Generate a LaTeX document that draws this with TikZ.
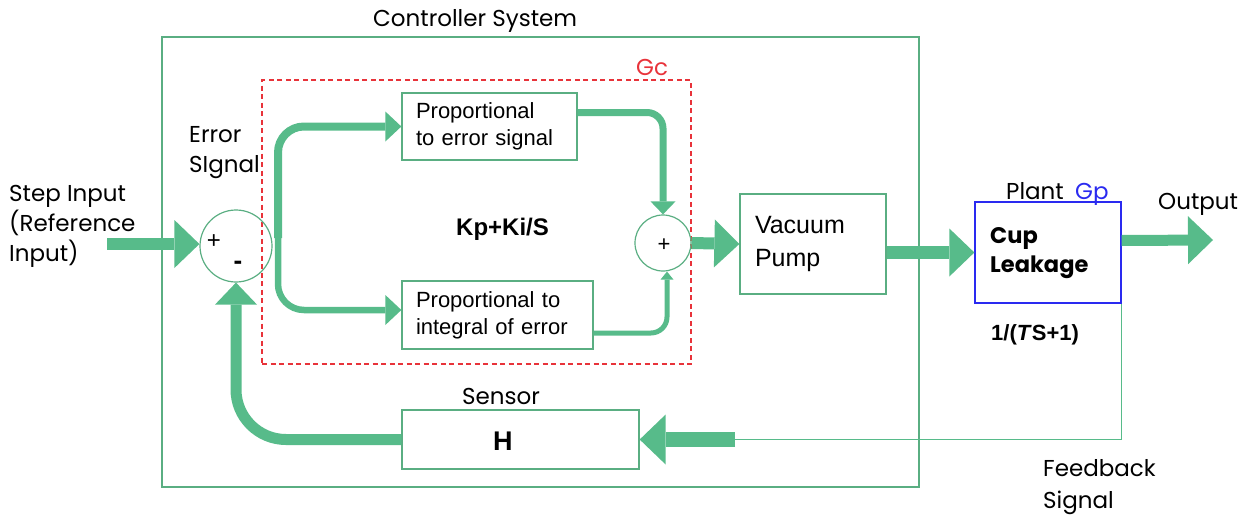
\documentclass[tikz,border=0pt]{standalone}
\usepackage{fontspec}
\setmainfont{Poppins}
\newfontfamily\arialf{Liberation Sans}
\usetikzlibrary{arrows.meta}
\definecolor{agreen}{HTML}{57BB8A}
\definecolor{bgreen}{HTML}{5AAE82}
\definecolor{dred}{HTML}{E8333A}
\definecolor{pblue}{HTML}{2A2AF0}
\begin{document}
\begin{tikzpicture}[x=1pt,y=-1pt,
  lbl/.style={font=\fontsize{23}{30}\selectfont, inner sep=0pt, anchor=base west},
  gbox/.style={draw=bgreen, line width=1.3pt, align=left, inner ysep=0pt},
  arbox/.style={gbox, font=\arialf\fontsize{22}{27}\selectfont, inner xsep=14pt},
  sumc/.style={draw=bgreen, line width=1.2pt, circle, inner sep=0pt},
  bold/.style={font=\arialf\bfseries\fontsize{22}{24}\selectfont, inner sep=0pt, anchor=base west},
  bigarrow/.style={draw=agreen, line width=12pt, -{Triangle[width=48pt,length=25pt,line width=0pt,fill=agreen]}},
  brarrow/.style={draw=agreen, line width=8pt, rounded corners=26pt, -{Triangle[width=30pt,length=16pt,line width=0pt,fill=agreen]}},
  midarrow/.style={draw=agreen, line width=7pt, rounded corners=16pt, -{Triangle[width=25pt,length=13pt,line width=0pt,fill=agreen]}},
  smallarrow/.style={draw=agreen, line width=5pt, rounded corners=16pt, -{Triangle[width=13pt,length=8pt,line width=0pt,fill=agreen]}},
  fbarrow/.style={draw=agreen, line width=11pt, rounded corners=50pt, -{Triangle[width=42pt,length=22pt,line width=0pt,fill=agreen]}}
]
\useasboundingbox (0,0) rectangle (1247,514);
% outer controller box
\node[draw=bgreen, line width=1.3pt, minimum width=757pt, minimum height=450pt, inner sep=0pt] (ctrl) at (540.5,262) {};
\node[lbl] (ctrltitle) at (373,26) {Controller System};
% red dashed Gc box
\node[draw=dred, line width=1.2pt, dash pattern=on 5pt off 3.5pt, minimum width=429pt, minimum height=284pt, inner sep=0pt] (gc) at (476.5,222) {};
\node[lbl, text=dred] (gclbl) at (636,75) {Gc};
% summing junctions
\node[sumc, minimum size=72pt] (sum1) at (236,246) {};
\node[font=\arialf\fontsize{24}{24}\selectfont, inner sep=0pt] (plus1) at (214,242) {+};
\node[font=\arialf\bfseries\fontsize{26}{26}\selectfont, inner sep=0pt] (minus1) at (238,265) {-};
\node[sumc, minimum size=56pt] (sum2) at (663,243) {};
\node[font=\arialf\fontsize{22}{22}\selectfont, inner sep=0pt] (plus2) at (664,245) {+};
% blocks
\node[arbox, text width=147pt, minimum height=67pt] (P) at (489.5,126.5) {Proportional\\to error signal};
\node[arbox, text width=163pt, minimum height=68pt] (I) at (497.5,315) {Proportional to\\integral of error};
\node[gbox, font=\arialf\fontsize{25}{33}\selectfont, inner xsep=15pt, text width=116pt, minimum height=100pt] (VP) at (813,244) {Vacuum\\Pump};
\node[draw=pblue, line width=1.3pt, minimum width=146pt, minimum height=101pt, inner sep=0pt] (cup) at (1048,252.5) {};
\node[font=\bfseries\fontsize{22.5}{30}\selectfont, inner sep=0pt, anchor=base west] (cup1) at (990,243) {Cup};
\node[font=\bfseries\fontsize{22.5}{30}\selectfont, inner sep=0pt, anchor=base west] (cup2) at (990,272) {Leakage};
\node[gbox, minimum width=237pt, minimum height=59pt] (H) at (520.5,439.5) {};
\node[font=\arialf\bfseries\fontsize{27}{30}\selectfont, inner sep=0pt, anchor=base west] (Htxt) at (493,450) {H};
% labels
\node[lbl] (err1) at (189,142) {Error};
\node[lbl] (err2) at (189,172) {SIgnal};
\node[lbl] (in1) at (9,201) {Step Input};
\node[lbl] (in2) at (9,231) {(Reference};
\node[lbl] (in3) at (9,261) {Input)};
\node[bold, font=\arialf\bfseries\fontsize{24}{24}\selectfont] (gclaw) at (456,235) {Kp+Ki/S};
\node[lbl] (sensor) at (462,404) {Sensor};
\node[lbl] (plant) at (1006,199) {Plant};
\node[lbl, text=pblue] (gp) at (1075,199) {Gp};
\node[bold] (tf) at (991,340) {1/(\textit{T}S+1)};
\node[lbl] (outlbl) at (1158,209) {Output};
\node[lbl] (fb1) at (1043,476) {Feedback};
\node[lbl] (fb2) at (1043,508) {Signal};
% coordinates
\coordinate (inp) at (107,244);
\coordinate (br) at (278,238);
\coordinate (outp) at (1213,240);
\coordinate (fbj) at (735,439.5);
% connectors
\draw[bigarrow] (inp) -- (sum1.west |- inp);
\draw[brarrow] (br) |- ([yshift=0pt]P.west);
\draw[brarrow, line width=6.5pt] (br) |- ([yshift=5pt]I.west);
\draw[midarrow] ([yshift=14pt]P.east) -| (sum2.north);
\draw[smallarrow] ([yshift=-18pt]I.east) -| ([xshift=4pt]sum2.south);
\draw[bigarrow] (sum2.east) -- (VP.west);
\draw[bigarrow, line width=13pt] (VP.east |- cup.west) -- (cup.west);
\draw[bigarrow, line width=11pt] ([yshift=12pt]cup.east) -- (outp);
\draw[draw=agreen, line width=1.6pt] (cup.south east) |- (fbj);
\draw[bigarrow, line width=15pt, -{Triangle[width=50pt,length=26pt,line width=0pt,fill=agreen]}] (fbj) -- (H.east);
\draw[fbarrow] (H.west) -| (sum1.south);
\end{tikzpicture}
\end{document}
